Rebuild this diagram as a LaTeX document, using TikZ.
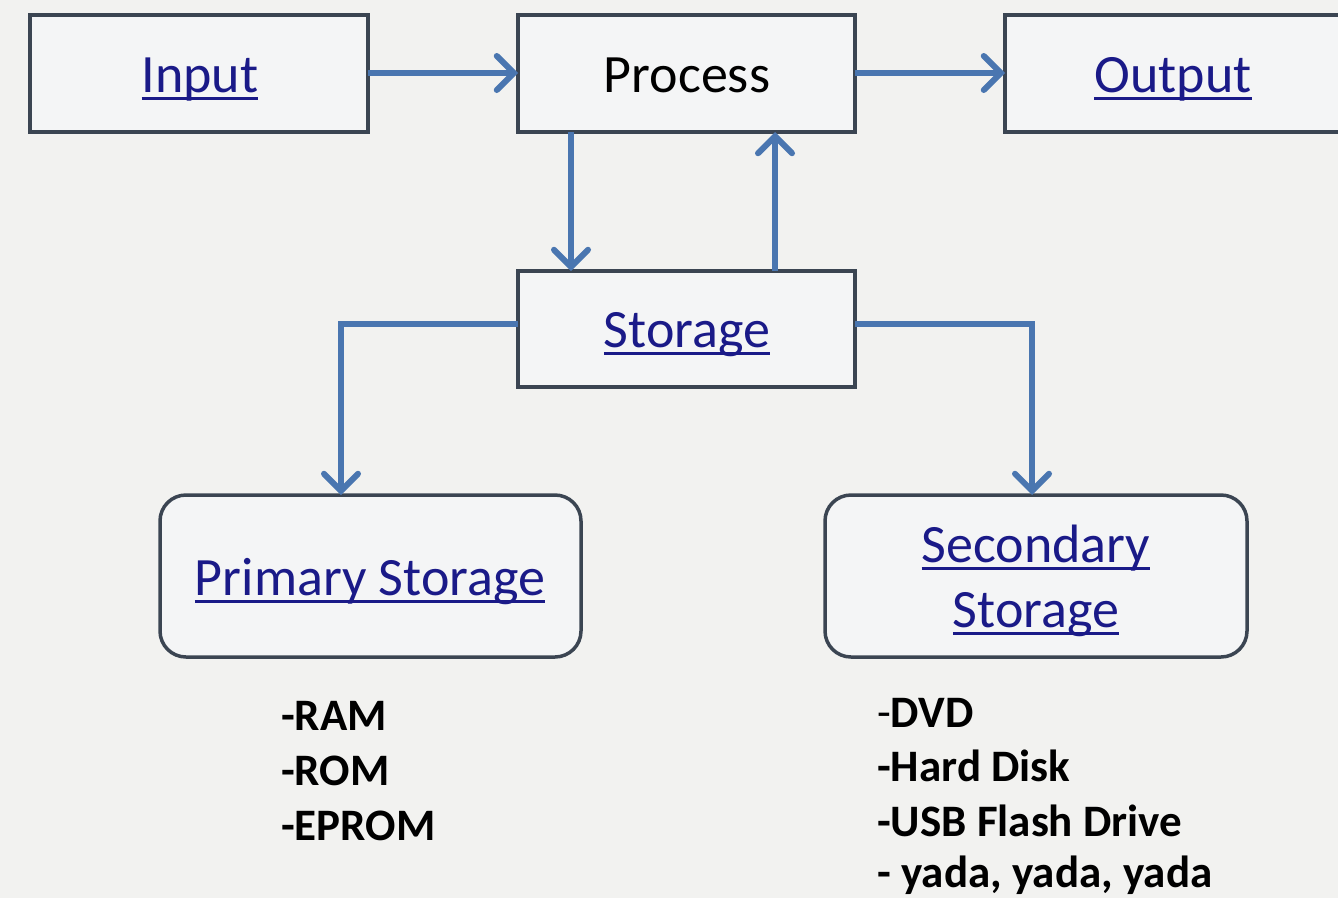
\documentclass[tikz,border=0pt]{standalone}
\usepackage{fontspec}
\setmainfont{Carlito}
\usetikzlibrary{arrows.meta,calc}
\definecolor{bgcol}{HTML}{F2F2F0}
\definecolor{boxfill}{HTML}{F4F5F6}
\definecolor{boxline}{HTML}{3B4552}
\definecolor{arrowcol}{HTML}{4A76B0}
\definecolor{linkcol}{HTML}{1A1A88}
\newcommand\lnk[1]{\setbox0\hbox{#1}\rlap{\color{linkcol}\rule[-0.14em]{\wd0}{0.055em}}\box0}
\tikzset{
  x=1pt, y=-1pt,
  boxnode/.style={draw=boxline, line width=3.5pt, fill=boxfill, inner sep=0pt},
  roundbox/.style={boxnode, rounded corners=26pt},
  lbl/.style={anchor=base, inner sep=0pt, font=\fontsize{54}{65}\selectfont},
  linklbl/.style={lbl, text=linkcol},
  listtxt/.style={anchor=base west, inner sep=0pt, font=\fontsize{45}{54}\selectfont\bfseries},
  conn/.style={draw=arrowcol, line width=6pt, -{Straight Barb[length=17pt, width=34pt, line width=6pt, line cap=round]}},
}
\begin{document}
\begin{tikzpicture}
\useasboundingbox (0,0) rectangle (1338,898);
\fill[bgcol] (0,0) rectangle (1338,898);

% boxes
\draw[boxnode] (30,15) rectangle (368,132);
\coordinate (inE) at (368,73);
\draw[boxnode] (518,15) rectangle (855,132);
\coordinate (prW) at (518,73);
\coordinate (prE) at (855,73);
\draw[boxnode] (1005,15) rectangle (1350,132);
\coordinate (outW) at (1005,73);
\draw[boxnode] (518,271) rectangle (855,387);
\draw[roundbox] (160,495) rectangle (581,657);
\draw[roundbox] (825,495) rectangle (1247,657);

% anchors for connectors
\coordinate (prS1) at (571,132);
\coordinate (stN1) at (571,271);
\coordinate (stN2) at (775,271);
\coordinate (prS2) at (775,132);
\coordinate (stW) at (518,324);
\coordinate (stE) at (855,324);
\coordinate (priN) at (341,495);
\coordinate (secN) at (1032,495);

% labels
\node[linklbl] (input) at (200,92) {\lnk{Input}};
\node[lbl] (process) at (687,92) {Process};
\node[linklbl] (output) at (1173,92) {\lnk{Output}};
\node[linklbl] (storage) at (687,347) {\lnk{Storage}};
\node[linklbl] (primary) at (370,595) {\lnk{Primary Storage}};
\node[linklbl] (secondary1) at (1036,562) {\lnk{Secondary}};
\node[linklbl] (secondary2) at (1036,627) {\lnk{Storage}};

% lists
\node[listtxt] (ram) at (281,730) {-RAM};
\node[listtxt] (rom) at (281,785) {-ROM};
\node[listtxt] (eprom) at (281,840) {-EPROM};
\node[listtxt] (dvd) at (877,727) {{\mdseries -}DVD};
\node[listtxt] (hdd) at (877,781) {-Hard Disk};
\node[listtxt] (usb) at (877,836) {-USB Flash Drive};
\node[listtxt] (yada) at (877,887) {- yada, yada, yada};

% connectors
\draw[conn] (inE) -- (prW);
\draw[conn] (prE) -- (outW);
\draw[conn] (prS1) -- (stN1);
\draw[conn] (stN2) -- (prS2);
\draw[conn] (stW) -| (priN);
\draw[conn] (stE) -| (secN);
\end{tikzpicture}
\end{document}
